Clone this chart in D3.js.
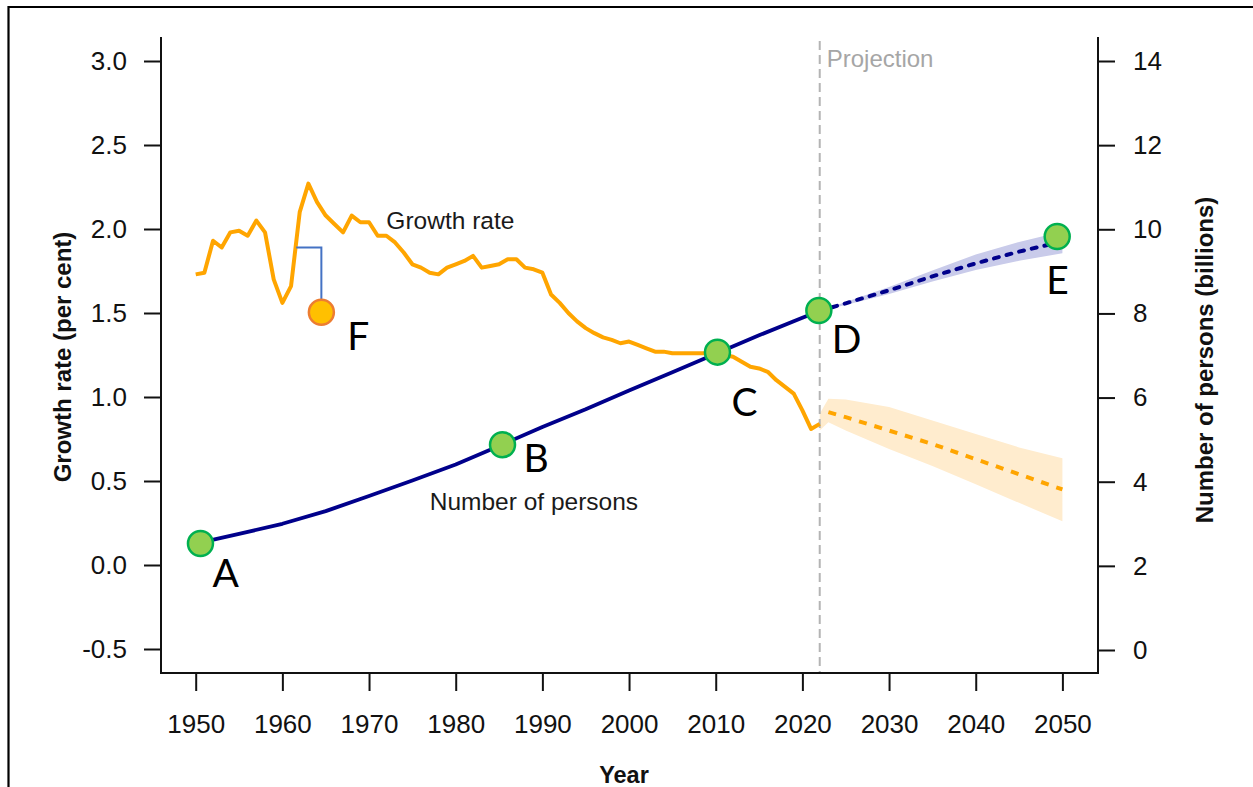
<!DOCTYPE html>
<html>
<head>
<meta charset="utf-8">
<script src="https://cdn.jsdelivr.net/npm/d3@7"></script>
<style>
  html, body { margin: 0; padding: 0; background: #fff; }
  svg { display: block; }
  text { font-family: "Liberation Sans", Arial, sans-serif; }
</style>
</head>
<body>
<div id="chart"></div>
<script>
// growth rate (per cent), observed
var growthRate = [
  [1950, 1.73], [1951, 1.74], [1952, 1.93], [1953, 1.89], [1954, 1.98], [1955, 1.99],
  [1956, 1.96], [1957, 2.05], [1958, 1.98], [1959, 1.70], [1960, 1.56], [1961, 1.66],
  [1962, 2.10], [1963, 2.27], [1964, 2.16], [1965, 2.08], [1966, 2.03], [1967, 1.98],
  [1968, 2.08], [1969, 2.04], [1970, 2.04], [1971, 1.96], [1972, 1.96], [1973, 1.92],
  [1974, 1.86], [1975, 1.79], [1976, 1.77], [1977, 1.74], [1978, 1.73], [1979, 1.77],
  [1980, 1.79], [1981, 1.81], [1982, 1.84], [1983, 1.77], [1984, 1.78], [1985, 1.79],
  [1986, 1.82], [1987, 1.82], [1988, 1.77], [1989, 1.76], [1990, 1.74], [1991, 1.61],
  [1992, 1.56], [1993, 1.50], [1994, 1.45], [1995, 1.41], [1996, 1.38], [1997, 1.355],
  [1998, 1.34], [1999, 1.32], [2000, 1.33], [2001, 1.31], [2002, 1.29], [2003, 1.27],
  [2004, 1.27], [2005, 1.26], [2006, 1.26], [2007, 1.26], [2008, 1.26], [2009, 1.26],
  [2010, 1.26], [2011, 1.25], [2012, 1.24], [2013, 1.21], [2014, 1.18], [2015, 1.17],
  [2016, 1.15], [2017, 1.10], [2018, 1.06], [2019, 1.02], [2020, 0.92], [2021, 0.81],
  [2022, 0.84]
];

// growth rate projection: year, median, low, high
var rateProjection = [
  [2022, 0.84, 0.80, 0.90], [2023, 0.91, 0.85, 0.99], [2025, 0.88, 0.80, 0.985],
  [2030, 0.80, 0.69, 0.94], [2035, 0.72, 0.59, 0.86], [2040, 0.63, 0.48, 0.78],
  [2045, 0.54, 0.37, 0.70], [2050, 0.45, 0.26, 0.635]
];

// number of persons (billions), observed
var population = [
  [1950, 2.53], [1955, 2.76], [1960, 3.00], [1965, 3.30], [1970, 3.66], [1975, 4.03],
  [1980, 4.41], [1985, 4.85], [1990, 5.30], [1995, 5.72], [2000, 6.17], [2005, 6.60],
  [2010, 7.04], [2015, 7.48], [2020, 7.90], [2022, 8.06]
];

// number of persons projection: year, median, low, high
var popProjection = [
  [2022, 8.06, 8.06, 8.06], [2025, 8.24, 8.20, 8.27], [2030, 8.55, 8.46, 8.63],
  [2035, 8.88, 8.76, 9.02], [2040, 9.19, 9.03, 9.40], [2045, 9.47, 9.25, 9.70],
  [2050, 9.71, 9.43, 9.95]
];

// lettered points: which scale they sit on
var markers = [
  { label: 'A', year: 1950.55, value: 2.53, on: 'pop' },
  { label: 'B', year: 1985.4, value: 4.88, on: 'pop' },
  { label: 'C', year: 2010.2, value: 7.08, on: 'pop' },
  { label: 'D', year: 2021.9, value: 8.07, on: 'pop' },
  { label: 'E', year: 2049.4, value: 9.83, on: 'pop' },
  { label: 'F', year: 1964.5, value: 1.504, on: 'rate' }
];
// bracket from the growth rate line down to F
var bracketF = [[1961.6, 1.89], [1964.5, 1.89], [1964.5, 1.58]];

var yearTicks = [1950, 1960, 1970, 1980, 1990, 2000, 2010, 2020, 2030, 2040, 2050];
var rateTicks = [-0.5, 0, 0.5, 1.0, 1.5, 2.0, 2.5, 3.0];
var popTicks = [0, 2, 4, 6, 8, 10, 12, 14];
var projectionYear = 2022;

var width = 1253, height = 787;
var svg = d3.select('#chart').append('svg')
    .attr('width', width).attr('height', height);

var x = d3.scaleLinear().domain([1950, 2050]).range([195.7, 1062.4]);
var yRate = d3.scaleLinear().domain([-0.5, 3.0]).range([649, 61]);
var yPop = d3.scaleLinear().domain([0, 14]).range([650, 61]);

var box = { left: 161, right: 1098, top: 37, bottom: 673 };

// outer frame (top + left edges only show)
svg.append('path')
    .attr('d', 'M' + width + ',7H8.5V' + height)
    .attr('fill', 'none').attr('stroke', '#000').attr('stroke-width', 2.2);

// bands
var popArea = d3.area()
    .x(function (d) { return x(d[0]); })
    .y0(function (d) { return yPop(d[2]); })
    .y1(function (d) { return yPop(d[3]); });
var rateArea = d3.area()
    .x(function (d) { return x(d[0]); })
    .y0(function (d) { return yRate(d[2]); })
    .y1(function (d) { return yRate(d[3]); });

svg.append('path').datum(rateProjection)
    .attr('d', rateArea).attr('fill', '#ffecce');
svg.append('path').datum(popProjection)
    .attr('d', popArea).attr('fill', '#c9cbea');

// projection divider
svg.append('line')
    .attr('x1', x(projectionYear)).attr('x2', x(projectionYear))
    .attr('y1', box.top + 4).attr('y2', box.bottom)
    .attr('stroke', '#b4b4b4').attr('stroke-width', 2)
    .attr('stroke-dasharray', '9,5');

svg.append('text')
    .attr('x', x(projectionYear) + 7).attr('y', yRate(3.0) + 6)
    .attr('font-size', 24).attr('fill', '#a6a6a6')
    .text('Projection');

// lines
var rateLine = d3.line()
    .x(function (d) { return x(d[0]); })
    .y(function (d) { return yRate(d[1]); });
var popLine = d3.line()
    .x(function (d) { return x(d[0]); })
    .y(function (d) { return yPop(d[1]); });

svg.append('path').datum(growthRate)
    .attr('d', rateLine).attr('fill', 'none')
    .attr('stroke', '#ffa500').attr('stroke-width', 4)
    .attr('stroke-linejoin', 'round');

svg.append('path').datum(rateProjection.slice(1))
    .attr('d', rateLine).attr('fill', 'none')
    .attr('stroke', '#ffa500').attr('stroke-width', 4)
    .attr('stroke-dasharray', '8,8');

svg.append('path').datum(population)
    .attr('d', popLine).attr('fill', 'none')
    .attr('stroke', '#00008b').attr('stroke-width', 3.8)
    .attr('stroke-linejoin', 'round');

svg.append('path').datum(popProjection)
    .attr('d', popLine).attr('fill', 'none')
    .attr('stroke', '#00008b').attr('stroke-width', 4)
    .attr('stroke-linecap', 'round')
    .attr('stroke-dasharray', '5,8');

// series labels
svg.append('text')
    .attr('x', x(1972)).attr('y', yRate(2.0))
    .attr('font-size', 24.5).attr('fill', '#1a1a1a')
    .text('Growth rate');
svg.append('text')
    .attr('x', x(1977)).attr('y', yPop(3.33))
    .attr('font-size', 24.5).attr('fill', '#1a1a1a')
    .text('Number of persons');

// bracket to F
svg.append('path').datum(bracketF)
    .attr('d', rateLine).attr('fill', 'none')
    .attr('stroke', '#4472c4').attr('stroke-width', 2);

// lettered points
function markerY(d) { return d.on === 'pop' ? yPop(d.value) : yRate(d.value); }
var labelOffset = { A: [12, 43], B: [21, 27], C: [14, 64], D: [13, 43], E: [-11, 58], F: [26, 38] };

svg.selectAll('circle.marker')
    .data(markers).enter().append('circle')
    .attr('class', 'marker')
    .attr('cx', function (d) { return x(d.year); })
    .attr('cy', markerY)
    .attr('r', 12.5)
    .attr('fill', function (d) { return d.on === 'pop' ? '#92d050' : '#ffc000'; })
    .attr('stroke', function (d) { return d.on === 'pop' ? '#00b050' : '#ed7d31'; })
    .attr('stroke-width', 2.5);

svg.selectAll('text.marker')
    .data(markers).enter().append('text')
    .attr('class', 'marker')
    .attr('x', function (d) { return x(d.year) + labelOffset[d.label][0]; })
    .attr('y', function (d) { return markerY(d) + labelOffset[d.label][1]; })
    .style('font-family', 'Lato, "Noto Sans", sans-serif')
    .attr('font-size', 39).attr('fill', '#000')
    .text(function (d) { return d.label; });

// axes box (left, bottom, right)
svg.append('path')
    .attr('d', 'M' + box.left + ',' + box.top + 'V' + box.bottom + 'H' + box.right + 'V' + box.top)
    .attr('fill', 'none').attr('stroke', '#111').attr('stroke-width', 2);

var gLeft = svg.append('g')
    .attr('transform', 'translate(' + box.left + ',0)')
    .call(d3.axisLeft(yRate).tickValues(rateTicks)
        .tickFormat(function (d) { return d.toFixed(1); })
        .tickSize(17).tickPadding(17));
var gBottom = svg.append('g')
    .attr('transform', 'translate(0,' + box.bottom + ')')
    .call(d3.axisBottom(x).tickValues(yearTicks)
        .tickFormat(d3.format('d'))
        .tickSize(18).tickPadding(24));
var gRight = svg.append('g')
    .attr('transform', 'translate(' + box.right + ',0)')
    .call(d3.axisRight(yPop).tickValues(popTicks)
        .tickSize(17).tickPadding(18));

[gLeft, gBottom, gRight].forEach(function (g) {
    g.select('.domain').remove();
    g.selectAll('.tick line').attr('stroke', '#111').attr('stroke-width', 2);
    g.selectAll('.tick text')
        .attr('font-family', '"Liberation Sans", Arial, sans-serif')
        .attr('font-size', 26).attr('fill', '#111');
});

// axis titles
svg.append('text')
    .attr('x', 624).attr('y', 783)
    .attr('text-anchor', 'middle')
    .attr('font-size', 23.5).attr('font-weight', 'bold').attr('fill', '#111')
    .text('Year');
svg.append('text')
    .attr('transform', 'translate(71,357) rotate(-90)')
    .attr('text-anchor', 'middle')
    .attr('font-size', 24).attr('font-weight', 'bold').attr('fill', '#111')
    .text('Growth rate (per cent)');
svg.append('text')
    .attr('transform', 'translate(1213,360) rotate(-90)')
    .attr('text-anchor', 'middle')
    .attr('font-size', 24).attr('font-weight', 'bold').attr('fill', '#111')
    .text('Number of persons (billions)');
</script>
</body>
</html>
